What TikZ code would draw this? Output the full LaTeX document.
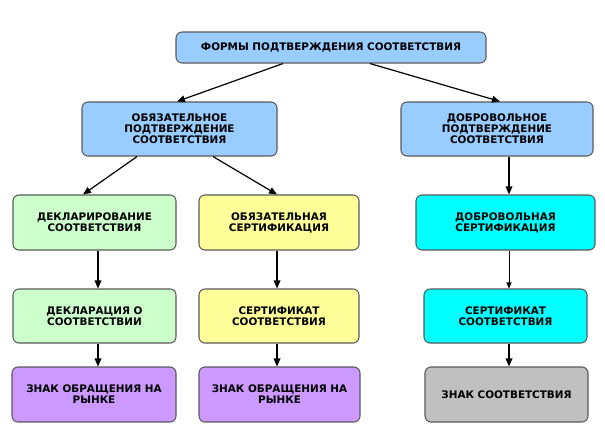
\documentclass[tikz,border=0pt]{standalone}
\usepackage{fontspec}
\setmainfont{DejaVu Sans}
\usetikzlibrary{arrows.meta,calc}
\definecolor{cblue}{HTML}{99CCFF}
\definecolor{cgreen}{HTML}{CCFFCC}
\definecolor{cyellow}{HTML}{FFFF99}
\definecolor{ccyan}{HTML}{00FFFF}
\definecolor{cpurple}{HTML}{CC99FF}
\definecolor{cgrey}{HTML}{C0C0C0}
\definecolor{cborder}{HTML}{5A5A5A}
\begin{document}
\begin{tikzpicture}[x=0.75pt,y=-0.75pt,
  box/.style={draw=cborder,line width=0.8pt,rounded corners=4.5pt,align=center,
    font=\fontsize{7.8}{8.2}\selectfont\bfseries,inner sep=0pt},
  arr/.style={line width=0.9pt,-{Triangle[length=6pt,width=5pt]}},
  thinarr/.style={line width=0.5pt,-{Triangle[length=4.5pt,width=3.8pt]}}]
\useasboundingbox (0,0) rectangle (605,440);
\fill[white] (0,0) rectangle (605,440);
\node[box,fill=cblue,minimum width=310*0.75pt,minimum height=31*0.75pt] (top) at (331,47.5) {ФОРМЫ ПОДТВЕРЖДЕНИЯ СООТВЕТСТВИЯ};
\node[box,fill=cblue,minimum width=195*0.75pt,minimum height=54*0.75pt] (ob) at (179.5,129) {ОБЯЗАТЕЛЬНОЕ\\ПОДТВЕРЖДЕНИЕ\\СООТВЕТСТВИЯ};
\node[box,fill=cblue,minimum width=192*0.75pt,minimum height=54*0.75pt] (dob) at (497,129) {ДОБРОВОЛЬНОЕ\\ПОДТВЕРЖДЕНИЕ\\СООТВЕТСТВИЯ};
\node[box,fill=cgreen,minimum width=163*0.75pt,minimum height=55*0.75pt] (dec) at (94.5,222.5) {ДЕКЛАРИРОВАНИЕ\\СООТВЕТСТВИЯ};
\node[box,fill=cyellow,minimum width=160*0.75pt,minimum height=55*0.75pt] (obc) at (279,222.5) {ОБЯЗАТЕЛЬНАЯ\\СЕРТИФИКАЦИЯ};
\node[box,fill=ccyan,minimum width=179*0.75pt,minimum height=55*0.75pt] (dobc) at (505.5,222.5) {ДОБРОВОЛЬНАЯ\\СЕРТИФИКАЦИЯ};
\node[box,fill=cgreen,minimum width=163*0.75pt,minimum height=54*0.75pt] (decl) at (94.5,316) {ДЕКЛАРАЦИЯ О\\СООТВЕТСТВИИ};
\node[box,fill=cyellow,minimum width=160*0.75pt,minimum height=54*0.75pt] (cert) at (279,316) {СЕРТИФИКАТ\\СООТВЕТСТВИЯ};
\node[box,fill=ccyan,minimum width=163*0.75pt,minimum height=54*0.75pt] (certd) at (505.5,316) {СЕРТИФИКАТ\\СООТВЕТСТВИЯ};
\node[box,fill=cpurple,minimum width=164*0.75pt,minimum height=55*0.75pt] (zn1) at (94,394.5) {ЗНАК ОБРАЩЕНИЯ НА\\РЫНКЕ};
\node[box,fill=cpurple,minimum width=161*0.75pt,minimum height=55*0.75pt] (zn2) at (279.5,394.5) {ЗНАК ОБРАЩЕНИЯ НА\\РЫНКЕ};
\node[box,fill=cgrey,minimum width=163*0.75pt,minimum height=55*0.75pt] (zn3) at (506.5,394.5) {ЗНАК СООТВЕТСТВИЯ};
\coordinate (xl) at (98,0);
\coordinate (xm) at (277,0);
\coordinate (xr) at (509,0);
\draw[arr] ($(top.south)+(-48,0)$) -- ($(ob.north)+(-2.5,0)$);
\draw[arr] ($(top.south)+(39,0)$) -- ($(dob.north)+(3,0)$);
\draw[arr] ($(ob.south)+(-42.5,0)$) -- ($(dec.north)+(-11.5,0)$);
\draw[arr] ($(ob.south)+(33.5,0)$) -- ($(obc.north)+(-2,0)$);
\draw[arr] (dob.south -| xr) -- (dobc.north -| xr);
\draw[thinarr] (dobc.south -| xr) -- (certd.north -| xr);
\draw[arr] (certd.south -| xr) -- (zn3.north -| xr);
\draw[arr] (dec.south -| xl) -- (decl.north -| xl);
\draw[arr] (decl.south -| xl) -- (zn1.north -| xl);
\draw[arr] (obc.south -| xm) -- (cert.north -| xm);
\draw[arr] (cert.south -| xm) -- (zn2.north -| xm);
\end{tikzpicture}
\end{document}
